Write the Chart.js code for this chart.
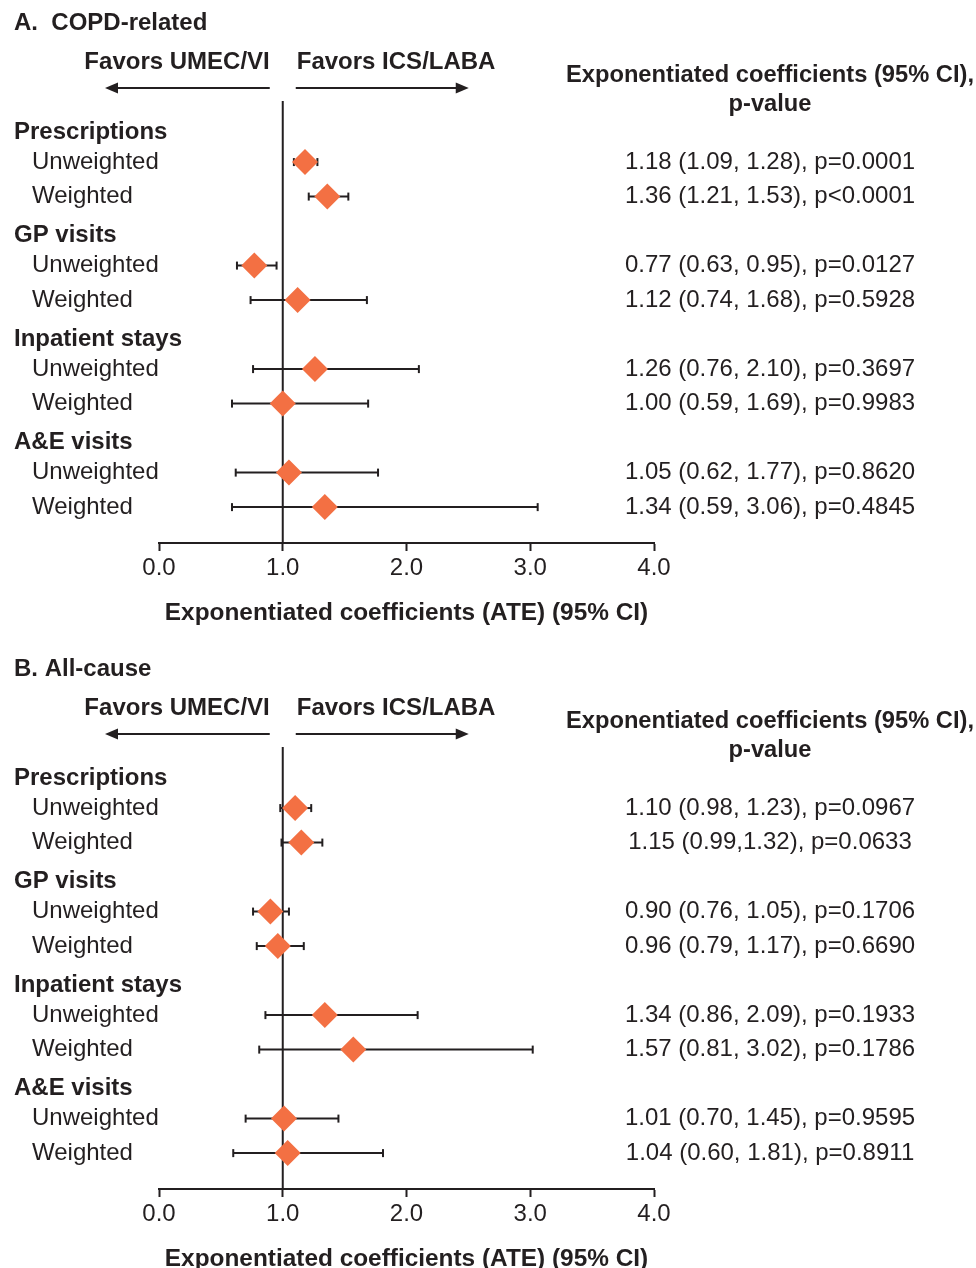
<!DOCTYPE html>
<html>
<head>
<meta charset="utf-8">
<script src="https://cdn.jsdelivr.net/npm/chart.js@4"></script>
<style>
  html, body { margin: 0; padding: 0; background: #fff; overflow: hidden; }
  .panel { position: absolute; left: 0; width: 976px; height: 646px; }
</style>
</head>
<body>
<div class="panel" style="top:0"><canvas id="copdChart" width="976" height="646"></canvas></div>
<div class="panel" style="top:646px"><canvas id="allChart" width="976" height="646"></canvas></div>
<script>
// rows of the forest plot, top to bottom
const rowLabels = [
  "Prescriptions", "Unweighted", "Weighted",
  "GP visits", "Unweighted", "Weighted",
  "Inpatient stays", "Unweighted", "Weighted",
  "A&E visits", "Unweighted", "Weighted",
];
const headerRows = [0, 3, 6, 9];
const dataRows = [1, 2, 4, 5, 7, 8, 10, 11];
const xTickValues = [0, 1, 2, 3, 4];

// A. COPD-related
const copdEst = [1.18, 1.36, 0.77, 1.12, 1.26, 1.00, 1.05, 1.34];
const copdLow = [1.09, 1.21, 0.63, 0.74, 0.76, 0.59, 0.62, 0.59];
const copdHigh = [1.28, 1.53, 0.95, 1.68, 2.10, 1.69, 1.77, 3.06];
const copdStats = [
  "1.18 (1.09, 1.28), p=0.0001",
  "1.36 (1.21, 1.53), p<0.0001",
  "0.77 (0.63, 0.95), p=0.0127",
  "1.12 (0.74, 1.68), p=0.5928",
  "1.26 (0.76, 2.10), p=0.3697",
  "1.00 (0.59, 1.69), p=0.9983",
  "1.05 (0.62, 1.77), p=0.8620",
  "1.34 (0.59, 3.06), p=0.4845",
];

// B. All-cause
const allEst = [1.10, 1.15, 0.90, 0.96, 1.34, 1.57, 1.01, 1.04];
const allLow = [0.98, 0.99, 0.76, 0.79, 0.86, 0.81, 0.70, 0.60];
const allHigh = [1.23, 1.32, 1.05, 1.17, 2.09, 3.02, 1.45, 1.81];
const allStats = [
  "1.10 (0.98, 1.23), p=0.0967",
  "1.15 (0.99,1.32), p=0.0633",
  "0.90 (0.76, 1.05), p=0.1706",
  "0.96 (0.79, 1.17), p=0.6690",
  "1.34 (0.86, 2.09), p=0.1933",
  "1.57 (0.81, 3.02), p=0.1786",
  "1.01 (0.70, 1.45), p=0.9595",
  "1.04 (0.60, 1.81), p=0.8911",
];

const ink = "#231f20";
const orange = "#f37043";
const family = "'Liberation Sans', Arial, Helvetica, sans-serif";
const yMin = -0.77;
const yMax = 12.04;
const headerShift = 0.13; // group headings sit a little lower than the row grid

Chart.defaults.font.family = family;
Chart.defaults.font.size = 24;
Chart.defaults.color = ink;

function drawArrow(ctx, fromX, toX, y) {
  const dir = Math.sign(toX - fromX);
  ctx.beginPath();
  ctx.moveTo(fromX, y);
  ctx.lineTo(toX - dir * 8, y);
  ctx.stroke();
  ctx.beginPath();
  ctx.moveTo(toX, y);
  ctx.lineTo(toX - dir * 13, y - 5.5);
  ctx.lineTo(toX - dir * 13, y + 5.5);
  ctx.closePath();
  ctx.fill();
}

function panelText(title, stats) {
  return {
    id: "panelText",
    afterDraw(chart) {
      const { ctx } = chart;
      const { x, y } = chart.scales;
      const one = x.getPixelForValue(1);
      ctx.save();
      ctx.fillStyle = ink;
      ctx.strokeStyle = ink;
      ctx.lineWidth = 2;
      ctx.textBaseline = "middle";
      ctx.font = `bold 24px ${family}`;
      ctx.textAlign = "left";
      ctx.fillText(title, 14, 23);
      ctx.textAlign = "right";
      ctx.fillText("Favors UMEC/VI", one - 13, 62);
      ctx.textAlign = "left";
      ctx.fillText("Favors ICS/LABA", one + 14, 62);
      drawArrow(ctx, one - 13, x.getPixelForValue(0) - 54, 88);
      drawArrow(ctx, one + 13, one + 186, 88);
      ctx.textAlign = "center";
      ctx.font = `bold 23.7px ${family}`;
      ctx.fillText("Exponentiated coefficients (95% CI),", 770, 75);
      ctx.fillText("p-value", 770, 104);

      // row labels down the left side
      ctx.textAlign = "left";
      rowLabels.forEach((label, row) => {
        if (headerRows.includes(row)) {
          ctx.font = `bold 24px ${family}`;
          ctx.fillText(label, 14, y.getPixelForValue(row + headerShift));
        } else {
          ctx.font = `24px ${family}`;
          ctx.fillText(label, 32, y.getPixelForValue(row));
        }
      });

      // estimate column on the right
      ctx.textAlign = "center";
      ctx.font = `24px ${family}`;
      dataRows.forEach((row, i) => {
        ctx.fillText(stats[i], 770, y.getPixelForValue(row));
      });
      ctx.restore();
    },
  };
}

function makePanel(canvasId, title, est, low, high, stats) {
  const ciSets = dataRows.map((row, i) => ({
    data: [{ x: low[i], y: row }, { x: high[i], y: row }],
    showLine: true,
    borderColor: ink,
    borderWidth: 2,
    pointStyle: "line",
    pointRotation: 90,
    pointRadius: 4,
    pointBorderWidth: 2,
    pointBorderColor: ink,
    order: 1,
  }));

  return new Chart(document.getElementById(canvasId), {
    type: "scatter",
    data: {
      datasets: [
        {
          data: dataRows.map((row, i) => ({ x: est[i], y: row })),
          pointStyle: "rectRot",
          pointRadius: 13,
          pointBackgroundColor: orange,
          pointBorderWidth: 0,
          order: 0,
        },
        ...ciSets,
        {
          data: [{ x: 1, y: yMin }, { x: 1, y: yMax }],
          showLine: true,
          borderColor: ink,
          borderWidth: 2,
          pointRadius: 0,
          order: 2,
        },
      ],
    },
    options: {
      responsive: false,
      animation: false,
      events: [],
      layout: { padding: { left: 14, right: 322, top: 101, bottom: 0 } },
      plugins: {
        legend: { display: false },
        tooltip: { enabled: false },
      },
      scales: {
        x: {
          type: "linear",
          min: 0,
          max: 4,
          afterBuildTicks: (scale) => {
            scale.ticks = xTickValues.map((v) => ({ value: v }));
          },
          afterFit: (scale) => {
            scale.height = 103;
          },
          ticks: {
            callback: (v) => Number(v).toFixed(1),
            padding: 3,
            maxRotation: 0,
            color: ink,
          },
          grid: {
            drawOnChartArea: false,
            drawTicks: true,
            tickLength: 8,
            tickWidth: 2,
            tickColor: ink,
          },
          border: { display: true, color: ink, width: 2 },
          title: {
            display: true,
            text: "Exponentiated coefficients (ATE) (95% CI)",
            color: ink,
            font: { size: 24.4, weight: "bold" },
            padding: { top: 0, bottom: 18 },
          },
        },
        y: {
          type: "linear",
          reverse: true,
          min: yMin,
          max: yMax,
          afterBuildTicks: (scale) => {
            scale.ticks = rowLabels.map((_, i) => ({ value: i }));
          },
          afterFit: (scale) => {
            scale.width = 145;
          },
          ticks: { display: false },
          grid: { display: false },
          border: { display: false },
        },
      },
    },
    plugins: [panelText(title, stats)],
  });
}

makePanel("copdChart", "A.  COPD-related", copdEst, copdLow, copdHigh, copdStats);
makePanel("allChart", "B. All-cause", allEst, allLow, allHigh, allStats);
</script>
</body>
</html>
